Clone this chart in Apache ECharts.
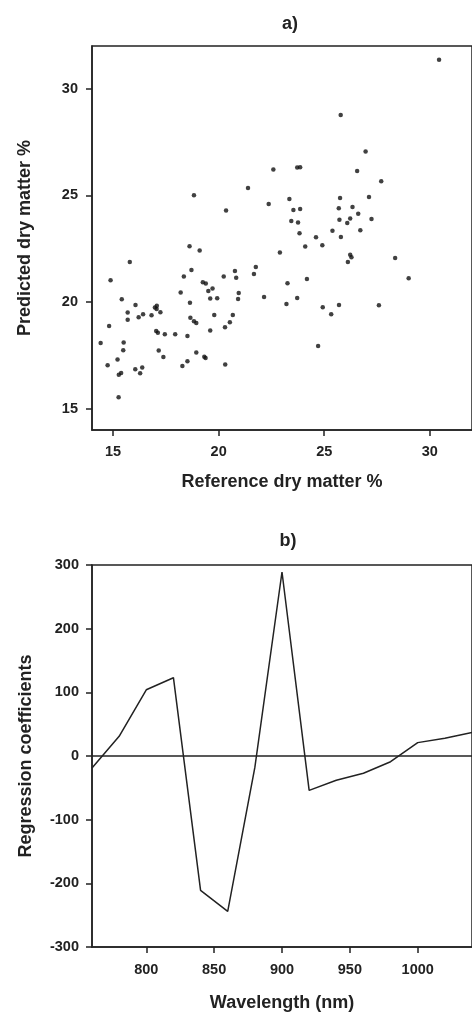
<!DOCTYPE html>
<html>
<head>
<meta charset="utf-8">
<script src="https://cdn.jsdelivr.net/npm/echarts@6/dist/echarts.min.js"></script>
<style>
html,body{margin:0;padding:0;background:#fff;}
#c{width:472px;height:1013px;}
</style>
</head>
<body>
<div id="c"></div>
<script>
// Panel a) reference vs predicted dry matter (%)
const refDM = [20.35,22.37,18.62,19.10,15.79,18.71,21.76,20.77,14.88,18.35,20.24,20.83,21.67,19.25,19.39,19.71,19.51,18.20,20.95,22.15,15.41,19.60,19.93,20.92,18.64,16.06,17.07,16.98,17.06,15.69,16.42,16.21,16.82,17.24,15.69,18.66,19.79,20.67,18.83,18.94,20.53,20.30,14.81,17.04,17.12,17.45,17.94,19.60,18.52,14.41,15.50,15.48,17.16,18.94,17.38,19.32,19.38,15.21,14.74,18.52,18.28,20.31,16.05,16.38,16.28,15.38,15.27,15.26,18.83,21.39,22.59,30.44,25.78,26.96,23.72,23.86,26.56,27.70,23.35,23.54,23.86,25.75,27.12,25.69,26.34,26.61,23.44,23.76,25.72,26.23,26.09,27.24,23.83,25.39,26.71,24.61,25.79,24.10,24.91,22.90,26.23,26.29,26.12,28.36,24.18,29.00,23.26,23.72,23.21,24.93,25.70,27.59,25.33,24.71];
const predDM = [24.29,24.59,22.61,22.41,21.88,21.50,21.64,21.45,21.02,21.19,21.20,21.14,21.31,20.92,20.87,20.63,20.51,20.44,20.42,20.23,20.13,20.16,20.17,20.14,19.97,19.86,19.83,19.74,19.67,19.51,19.43,19.28,19.38,19.52,19.17,19.26,19.39,19.39,19.10,19.02,19.05,18.82,18.88,18.64,18.56,18.49,18.49,18.66,18.41,18.08,18.10,17.74,17.73,17.63,17.42,17.43,17.37,17.30,17.04,17.22,17.00,17.07,16.85,16.93,16.66,16.67,16.59,15.53,25.00,25.34,26.21,31.35,28.77,27.05,26.30,26.32,26.14,25.66,24.83,24.31,24.36,24.88,24.92,24.39,24.45,24.14,23.80,23.73,23.86,23.91,23.70,23.89,23.22,23.34,23.36,23.03,23.05,22.60,22.66,22.32,22.22,22.10,21.88,22.06,21.08,21.11,20.88,20.19,19.91,19.75,19.86,19.85,19.42,17.94];
const ticksA = [15, 20, 25, 30];

// Panel b) regression coefficients by wavelength
const wavelengths = [760,780,800,820,840,860,880,900,920,940,960,980,1000,1020,1040];
const coefficients = [-19,31,104,123,-211,-244,-18,289,-54,-38,-27,-9,21,28,37];
const ticksBx = [800, 850, 900, 950, 1000];

const FONT = '"Liberation Sans", Arial, sans-serif';
const INK = '#222';
const axisLine = {show:true, onZero:false, lineStyle:{color:INK, width:1.5}};
const tickStyle = {show:true, inside:false, length:6, lineStyle:{color:INK, width:1.5}};
const lab = {color:INK, fontFamily:FONT, fontWeight:'bold', fontSize:14.5, formatter:(v)=>String(v)};
const nameStyle = {color:INK, fontFamily:FONT, fontWeight:'bold', fontSize:18};

const chart = echarts.init(document.getElementById('c'), null, {renderer:'canvas'});
chart.setOption({
  animation:false,
  backgroundColor:'#fff',
  title:[
    {text:'a)', left:285, top:10, textAlign:'center', textStyle:{color:INK, fontFamily:FONT, fontWeight:'bold', fontSize:18}},
    {text:'b)', left:283, top:527, textAlign:'center', textStyle:{color:INK, fontFamily:FONT, fontWeight:'bold', fontSize:18}}
  ],
  grid:[
    {left:92, top:46, width:385, height:384, show:true, borderColor:INK, borderWidth:1.5},
    {left:92, top:565, width:385, height:384, show:true, borderColor:INK, borderWidth:1.5}
  ],
  xAxis:[
    {gridIndex:0, type:'value', min:14, max:32,
     name:'Reference dry matter %', nameLocation:'middle', nameGap:43, nameTextStyle:nameStyle,
     axisLine:axisLine, axisTick:Object.assign({customValues:ticksA}, tickStyle),
     axisLabel:Object.assign({customValues:ticksA, margin:14}, lab), splitLine:{show:false}},
    {gridIndex:1, type:'value', min:760, max:1040,
     name:'Wavelength (nm)', nameLocation:'middle', nameGap:47, nameTextStyle:nameStyle,
     axisLine:axisLine, axisTick:Object.assign({customValues:ticksBx}, tickStyle),
     axisLabel:Object.assign({customValues:ticksBx, margin:15}, lab), splitLine:{show:false}}
  ],
  yAxis:[
    {gridIndex:0, type:'value', min:14, max:32,
     name:'Predicted dry matter %', nameLocation:'middle', nameGap:58, nameRotate:90, nameTextStyle:nameStyle,
     axisLine:axisLine, axisTick:Object.assign({customValues:ticksA}, tickStyle),
     axisLabel:Object.assign({customValues:ticksA, margin:14}, lab), splitLine:{show:false}},
    {gridIndex:1, type:'value', min:-300, max:300, interval:100,
     name:'Regression coefficients', nameLocation:'middle', nameGap:57, nameRotate:90, nameTextStyle:nameStyle,
     axisLine:axisLine, axisTick:tickStyle,
     axisLabel:Object.assign({margin:13}, lab), splitLine:{show:false}}
  ],
  series:[
    {type:'scatter', xAxisIndex:0, yAxisIndex:0, symbol:'circle', symbolSize:4.5,
     itemStyle:{color:'#111'}, data:refDM.map((x,i)=>[x, predDM[i]])},
    {type:'line', xAxisIndex:1, yAxisIndex:1, showSymbol:false, symbol:'none',
     lineStyle:{color:INK, width:1.5}, data:wavelengths.map((w,i)=>[w, coefficients[i]]),
     markLine:{silent:true, symbol:'none', label:{show:false},
       lineStyle:{color:INK, width:1.5, type:'solid'}, data:[{yAxis:0}]}}
  ]
});
</script>
</body>
</html>
